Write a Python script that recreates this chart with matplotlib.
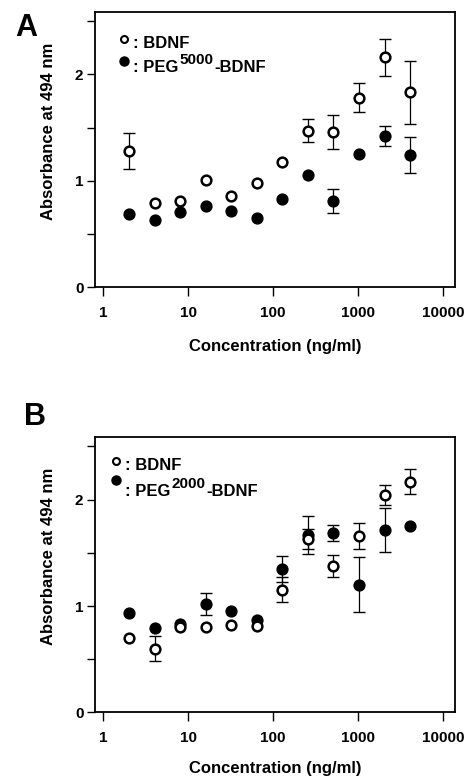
import numpy as np
import matplotlib
matplotlib.use("Agg")
import matplotlib.pyplot as plt

plt.rcParams["font.family"] = ["Liberation Sans", "DejaVu Sans"]
plt.rcParams["font.weight"] = "bold"

# concentrations (ng/ml), shared by both panels
conc = [2, 4, 8, 16, 32, 64, 128, 256, 512, 1024, 2048, 4096]

# panel A: BDNF vs PEG5000-BDNF
a_bdnf = [1.28, 0.79, 0.81, 1.01, 0.855, 0.98, 1.18, 1.47, 1.455, 1.78, 2.16, 1.83]
a_bdnf_err = [0.17, 0, 0, 0, 0, 0, 0, 0.11, 0.16, 0.135, 0.175, 0.30]
a_peg = [0.69, 0.635, 0.71, 0.765, 0.72, 0.65, 0.83, 1.05, 0.81, 1.25, 1.42, 1.245]
a_peg_err = [0, 0, 0, 0, 0, 0, 0, 0, 0.11, 0, 0.095, 0.17]

# panel B: BDNF vs PEG2000-BDNF
b_bdnf = [0.70, 0.60, 0.80, 0.80, 0.825, 0.81, 1.155, 1.63, 1.375, 1.66, 2.04, 2.17]
b_bdnf_err = [0, 0.115, 0, 0, 0, 0, 0.12, 0.09, 0.10, 0.125, 0.095, 0.12]
b_peg = [0.935, 0.795, 0.835, 1.02, 0.957, 0.866, 1.35, 1.665, 1.685, 1.20, 1.715, 1.755]
b_peg_err = [0, 0, 0, 0.105, 0, 0, 0.12, 0.18, 0.075, 0.26, 0.21, 0]

x_ticks = [1, 10, 100, 1000, 10000]
x_ticklabels = ["1", "10", "100", "1000", "10000"]
y_ticks = [0, 1, 2]


def draw_series(ax, y, err, filled):
    x = np.array(conc, dtype=float)
    y = np.array(y, dtype=float)
    e = np.array(err, dtype=float)
    m = e > 0
    ax.errorbar(x[m], y[m], yerr=e[m], fmt="none", ecolor="black",
                elinewidth=0.9, capsize=4, capthick=1.0, zorder=2)
    ax.plot(x, y, "o", ms=7, mew=1.8, mec="black",
            mfc="black" if filled else "white", zorder=3)


def style_axes(ax, xlabel_y):
    ax.set_xscale("log")
    ax.set_xlim(0.8, 13700)
    ax.set_ylim(0, 2.59)
    ax.set_xticks(x_ticks)
    ax.set_xticklabels(x_ticklabels)
    ax.xaxis.set_minor_locator(matplotlib.ticker.NullLocator())
    ax.set_yticks(y_ticks)
    ax.set_yticks([0.5, 1.5, 2.5], minor=True)
    ax.tick_params(axis="both", which="both", direction="out", width=1.0,
                   labelsize=11)
    ax.tick_params(axis="y", which="both", length=5.5, pad=3)
    ax.tick_params(axis="x", which="major", length=6.5, pad=7)
    for s in ax.spines.values():
        s.set_linewidth(1.3)
    ax.set_xlabel("Concentration (ng/ml)", fontsize=12, fontweight="bold")
    ax.set_ylabel("Absorbance at 494 nm", fontsize=12, fontweight="bold")
    ax.xaxis.set_label_coords(0.5, xlabel_y)
    ax.yaxis.set_label_coords(-0.11, 0.565)


def legend_block(ax, mx, tx, y_open, y_fill, base1, base2, sup):
    ax.plot([mx], [y_open], "o", ms=5, mew=1.5, mec="black", mfc="white",
            transform=ax.transAxes, clip_on=False)
    ax.plot([mx], [y_fill], "o", ms=6.5, mec="black", mfc="black",
            transform=ax.transAxes, clip_on=False)
    ax.text(tx, base1, ": BDNF", transform=ax.transAxes, fontsize=12,
            fontweight="bold", va="baseline")
    t1 = ax.text(tx, base2, ": PEG", transform=ax.transAxes, fontsize=12,
                 fontweight="bold", va="baseline")
    t2 = ax.annotate(sup, xy=(1, 0), xycoords=t1, xytext=(0.8, 5.8),
                     textcoords="offset points", fontsize=11,
                     fontweight="bold", va="bottom", ha="left")
    ax.annotate("-BDNF", xy=(1, 0), xycoords=t2, xytext=(0.5, -5.8),
                textcoords="offset points", fontsize=12,
                fontweight="bold", va="bottom", ha="left")


fig = plt.figure(figsize=(4.74, 7.76), dpi=100)
axA = fig.add_axes([0.201, 0.630, 0.758, 0.355])
axB = fig.add_axes([0.201, 0.082, 0.758, 0.355])

draw_series(axA, a_bdnf, a_bdnf_err, filled=False)
draw_series(axA, a_peg, a_peg_err, filled=True)
style_axes(axA, -0.19)
legend_block(axA, 0.079, 0.106, 0.900, 0.821, 0.867, 0.782, "5000")

draw_series(axB, b_peg, b_peg_err, filled=True)
draw_series(axB, b_bdnf, b_bdnf_err, filled=False)
style_axes(axB, -0.175)
legend_block(axB, 0.059, 0.082, 0.911, 0.843, 0.881, 0.785, "2000")

fig.text(26 / 474, 1 - 28 / 776, "A", fontsize=22, fontweight="bold",
         ha="center", va="center")
fig.text(35 / 474, 1 - 417 / 776, "B", fontsize=22, fontweight="bold",
         ha="center", va="center")

fig.savefig("out.png", dpi=100)
